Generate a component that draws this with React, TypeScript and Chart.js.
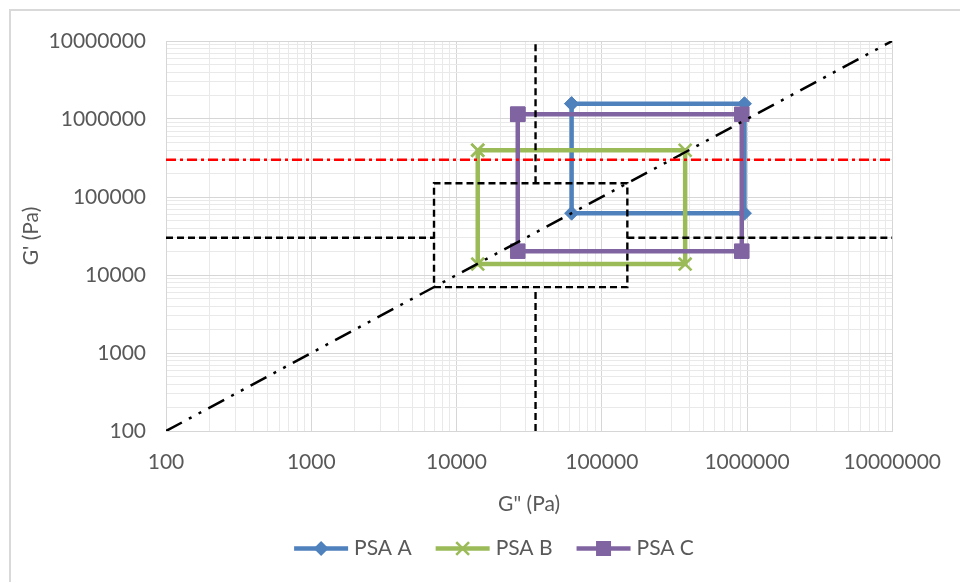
import React, { useEffect, useRef } from 'react';
import { Chart, registerables } from 'chart.js';

Chart.register(...registerables);

// Axis decades (both axes share the same log range) and their labels
const decades = [100, 1000, 10000, 100000, 1000000, 10000000];
const tickLabels = ['100', '1000', '10000', '100000', '1000000', '10000000'];
const minorMultipliers = [1, 2, 3, 4, 5, 6, 7, 8, 9];

// Viscoelastic windows: G'' (x) and G' (y), traced as closed rectangles
const psaAGpp = [62000, 960000, 960000, 62000, 62000];
const psaAGp = [1570000, 1570000, 62000, 62000, 1570000];

const psaBGpp = [14000, 375000, 375000, 14000, 14000];
const psaBGp = [398000, 398000, 13800, 13800, 398000];

const psaCGpp = [26400, 920000, 920000, 26400, 26400];
const psaCGp = [1150000, 1150000, 20200, 20200, 1150000];

// Reference lines
const dahlquistGp = 300000; // red dash-dot criterion
const diagonal = [100, 10000000]; // G' = G''
const windowLow = 7000; // dashed central box
const windowHigh = 150000;
const crossGpp = 35000; // dashed vertical divider
const crossGp = 30000; // dashed horizontal divider

const seriesNames = ['PSA A', 'PSA B', 'PSA C'];
const seriesColors = ['#4f81bd', '#9bbb59', '#8064a2'];
const seriesMarkers = ['diamond', 'cross', 'square'];

const TEXT = '#595959';
const FONT = 'Lato, "Open Sans", sans-serif';

const toPoints = (xs: number[], ys: number[]) => xs.map((x, i) => ({ x, y: ys[i] }));

const gridValues: number[] = [];
decades.forEach((d, i) => {
  if (i === decades.length - 1) {
    gridValues.push(d);
  } else {
    minorMultipliers.forEach((m) => gridValues.push(d * m));
  }
});

const isDecade = (v: number) => decades.some((d) => Math.abs(d - v) / d < 1e-9);
const labelFor = (v: number) => {
  const i = decades.findIndex((d) => Math.abs(d - v) / d < 1e-9);
  return i >= 0 ? tickLabels[i] : '';
};

function drawMarker(ctx: CanvasRenderingContext2D, kind: string, x: number, y: number, color: string) {
  ctx.save();
  ctx.fillStyle = color;
  ctx.strokeStyle = color;
  if (kind === 'diamond') {
    const r = 7.5;
    ctx.beginPath();
    ctx.moveTo(x, y - r);
    ctx.lineTo(x + r, y);
    ctx.lineTo(x, y + r);
    ctx.lineTo(x - r, y);
    ctx.closePath();
    ctx.fill();
  } else if (kind === 'square') {
    const s = 7.5;
    ctx.fillRect(x - s, y - s, 2 * s, 2 * s);
  } else {
    const r = 6.4;
    ctx.lineWidth = 2.6;
    ctx.beginPath();
    ctx.moveTo(x - r, y - r);
    ctx.lineTo(x + r, y + r);
    ctx.moveTo(x + r, y - r);
    ctx.lineTo(x - r, y + r);
    ctx.stroke();
  }
  ctx.restore();
}

const frame = {
  id: 'frame',
  beforeDraw(chart: any) {
    const { ctx, width, height } = chart;
    ctx.save();
    ctx.fillStyle = '#ffffff';
    ctx.fillRect(0, 0, width, height);
    ctx.strokeStyle = '#d9d9d9';
    ctx.lineWidth = 2;
    ctx.strokeRect(10, 10, width + 20, height + 20);
    ctx.restore();
  },
};

const seriesLegend = {
  id: 'seriesLegend',
  afterDraw(chart: any) {
    const ctx: CanvasRenderingContext2D = chart.ctx;
    const lineLen = 54;
    const gapText = 6;
    const gapItem = 24;
    const centerX = 494;
    const y = 548.5;
    ctx.save();
    ctx.font = `21px ${FONT}`;
    const widths = seriesNames.map((n) => ctx.measureText(n).width);
    const total = widths.reduce((a, w) => a + lineLen + gapText + w, 0) + gapItem * (seriesNames.length - 1);
    let x = centerX - total / 2;
    seriesNames.forEach((name, i) => {
      ctx.strokeStyle = seriesColors[i];
      ctx.lineWidth = 4.5;
      ctx.beginPath();
      ctx.moveTo(x, y);
      ctx.lineTo(x + lineLen, y);
      ctx.stroke();
      drawMarker(ctx, seriesMarkers[i], x + lineLen / 2, y, seriesColors[i]);
      ctx.fillStyle = TEXT;
      ctx.textAlign = 'left';
      ctx.textBaseline = 'middle';
      ctx.fillText(name, x + lineLen + gapText, y);
      x += lineLen + gapText + widths[i] + gapItem;
    });
    ctx.restore();
  },
};

function logAxis(title: string, isX: boolean, titlePadding: any) {
  return {
    type: 'logarithmic',
    position: isX ? 'bottom' : 'left',
    min: decades[0],
    max: decades[decades.length - 1],
    afterBuildTicks: (scale: any) => {
      scale.ticks = gridValues.map((v) => ({ value: v, major: isDecade(v) }));
    },
    afterFit: (scale: any) => {
      if (isX) scale.height = 86;
      else scale.width = 156;
    },
    grid: {
      drawTicks: false,
      lineWidth: 1,
      color: (c: any) => (c.tick && isDecade(c.tick.value) ? '#d6d6d6' : '#e9e9e9'),
    },
    border: { color: '#d6d6d6', width: 1 },
    ticks: {
      autoSkip: false,
      maxRotation: 0,
      padding: isX ? 19 : 20,
      color: TEXT,
      font: { family: FONT, size: 21 },
      callback: (v: any) => labelFor(Number(v)),
    },
    title: {
      display: true,
      text: title,
      color: TEXT,
      font: { family: FONT, size: 21 },
      padding: titlePadding,
    },
  };
}

export default function App() {
  const canvasRef = useRef<HTMLCanvasElement | null>(null);

  useEffect(() => {
    if (!canvasRef.current) return;

    const series = [
      { gpp: psaAGpp, gp: psaAGp, style: 'rectRot', radius: 7, border: 1 },
      { gpp: psaBGpp, gp: psaBGp, style: 'crossRot', radius: 9, border: 2.6 },
      { gpp: psaCGpp, gp: psaCGp, style: 'rect', radius: 10.3, border: 1 },
    ];

    const seriesSets = series.map((s, i) => ({
      label: seriesNames[i],
      data: toPoints(s.gpp, s.gp),
      showLine: true,
      borderColor: seriesColors[i],
      backgroundColor: seriesColors[i],
      borderWidth: 4.5,
      pointStyle: s.style,
      pointRadius: s.radius,
      pointBorderWidth: s.border,
      pointBackgroundColor: seriesColors[i],
      pointBorderColor: seriesColors[i],
      order: 10 - i,
    }));

    const refLine = (data: { x: number; y: number }[], color: string, dash: number[], width: number) => ({
      label: '',
      data,
      showLine: true,
      borderColor: color,
      borderWidth: width,
      borderDash: dash,
      borderCapStyle: 'butt',
      pointRadius: 0,
      pointHoverRadius: 0,
      order: 1,
    });

    const dash = [7, 4];
    const refSets = [
      refLine(toPoints([decades[0], decades[decades.length - 1]], [dahlquistGp, dahlquistGp]), '#ff0000', [10, 4, 3, 4], 2.5),
      refLine(toPoints([decades[0], windowLow], [crossGp, crossGp]), '#000000', dash, 2.4),
      refLine(toPoints([windowHigh, decades[decades.length - 1]], [crossGp, crossGp]), '#000000', dash, 2.4),
      refLine(toPoints([crossGpp, crossGpp], [decades[0], windowLow]), '#000000', dash, 2.4),
      refLine(toPoints([crossGpp, crossGpp], [windowHigh, decades[decades.length - 1]]), '#000000', dash, 2.4),
      refLine(
        toPoints([windowLow, windowHigh, windowHigh, windowLow, windowLow], [windowLow, windowLow, windowHigh, windowHigh, windowLow]),
        '#000000',
        dash,
        2.4
      ),
      refLine(toPoints(diagonal, diagonal), '#000000', [18, 8, 3, 8, 3, 8], 2.5),
    ];

    const chart = new Chart(canvasRef.current, {
      type: 'scatter',
      data: { datasets: [...seriesSets, ...refSets] as any },
      options: {
        responsive: false,
        animation: false,
        events: [],
        layout: { padding: { left: 10, top: 41, right: 67, bottom: 65 } },
        plugins: {
          legend: { display: false },
          tooltip: { enabled: false },
        },
        scales: {
          x: logAxis('G" (Pa)', true, { top: 0, bottom: 0 }),
          y: logAxis("G' (Pa)", false, { top: 9, bottom: 0 }),
        } as any,
      },
      plugins: [frame, seriesLegend],
    });

    return () => chart.destroy();
  }, []);

  return (
    <div style={{ position: 'absolute', left: 0, top: 0, width: 960, height: 582, background: '#fff' }}>
      <canvas ref={canvasRef} width={960} height={582} style={{ width: 960, height: 582, display: 'block' }} />
    </div>
  );
}
